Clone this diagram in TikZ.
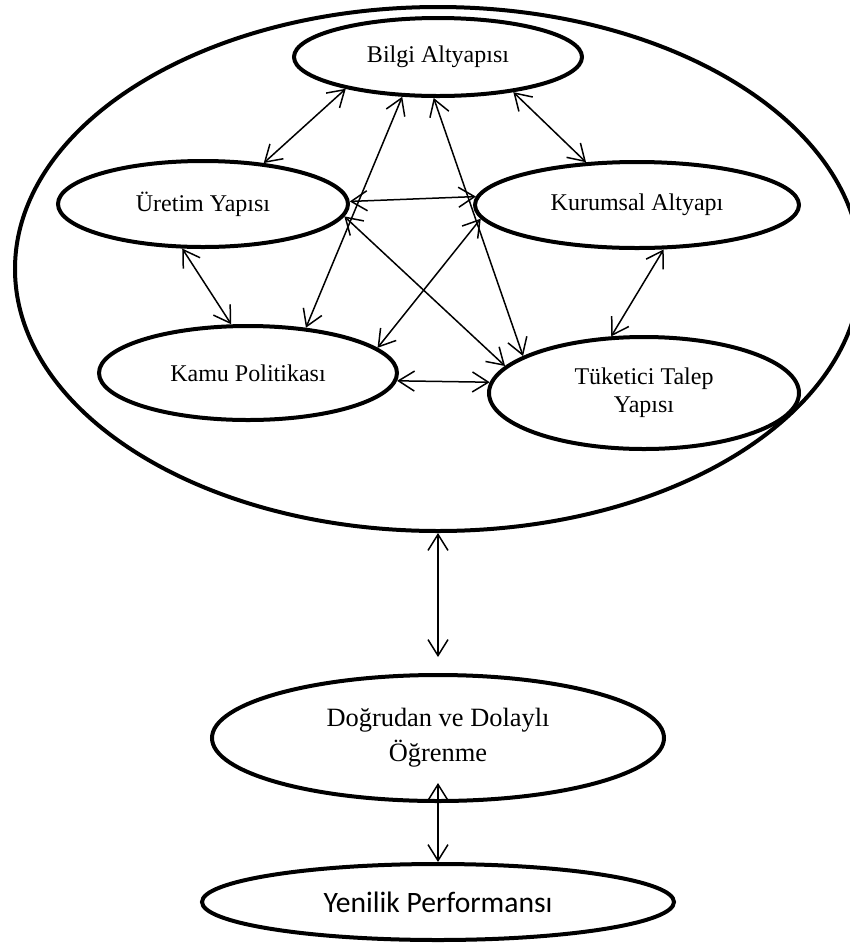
\documentclass[tikz,border=0pt]{standalone}
\usepackage{fontspec}
\setmainfont{Liberation Serif}
\newfontfamily\calibrifont{Carlito}
\usetikzlibrary{shapes.geometric,arrows.meta}

\tikzset{
	oval/.style={ellipse, draw, line width=2pt, inner sep=0pt, align=center},
	inner/.style={oval, font=\fontsize{12}{14}\selectfont},
	link/.style={<->, line width=0.75pt, >={Straight Barb[length=8pt,width=10pt]}}
}

\begin{document}
\begin{tikzpicture}[x=0.5pt,y=-0.5pt]
	\useasboundingbox (0,0) rectangle (850,949);
	\node[oval, minimum width=423pt, minimum height=262pt] (system) at (438,269) {};

	\node[inner, minimum width=144pt, minimum height=39pt] (bilgi) at (438,57) {Bilgi Altyapısı};
	\node[inner, minimum width=145pt, minimum height=43pt] (uretim) at (203,204) {Üretim Yapısı};
	\node[inner, minimum width=162pt, minimum height=43pt] (kurumsal) at (637,205) {Kurumsal Altyapı};
	\node[inner, minimum width=149pt, minimum height=47pt] (kamu) at (248,373) {Kamu Politikası};
	\node[inner, minimum width=155pt, minimum height=56pt] (tuketici) at (644,393) {Tüketici Talep\\Yapısı};

	\node[oval, minimum width=226pt, minimum height=63pt, font=\fontsize{13.2}{17.5}\selectfont] (ogrenme) at (438,738) {Doğrudan ve Dolaylı\\Öğrenme};
	\node[oval, minimum width=236pt, minimum height=38pt, font=\calibrifont\fontsize{14.8}{17}\selectfont] (yenilik) at (438,902) {Yenilik Performansı};

	% links inside the system
	\draw[link] (bilgi.199) -- (uretim.34);
	\draw[link] (bilgi.228) -- (kamu.38);
	\draw[link] (bilgi.264) -- (tuketici.163);
	\draw[link] (bilgi.335) -- (kurumsal.140);
	\draw[link] (uretim.1) -- (kurumsal.177);
	\draw[link] (uretim.355) -- (tuketici.169);
	\draw[link] (uretim.245) -- (kamu.109);
	\draw[link] (kurumsal.185) -- (kamu.11);
	\draw[link] (kurumsal.301) -- (tuketici.120);
	\draw[link] (kamu.357) -- (tuketici.176);

	% down to learning and performance
	\draw[link, shorten >=8pt] (system.south) -- (ogrenme.north);
	\draw[link, shorten <=-10pt] (ogrenme.south) -- (yenilik.north);
\end{tikzpicture}
\end{document}
